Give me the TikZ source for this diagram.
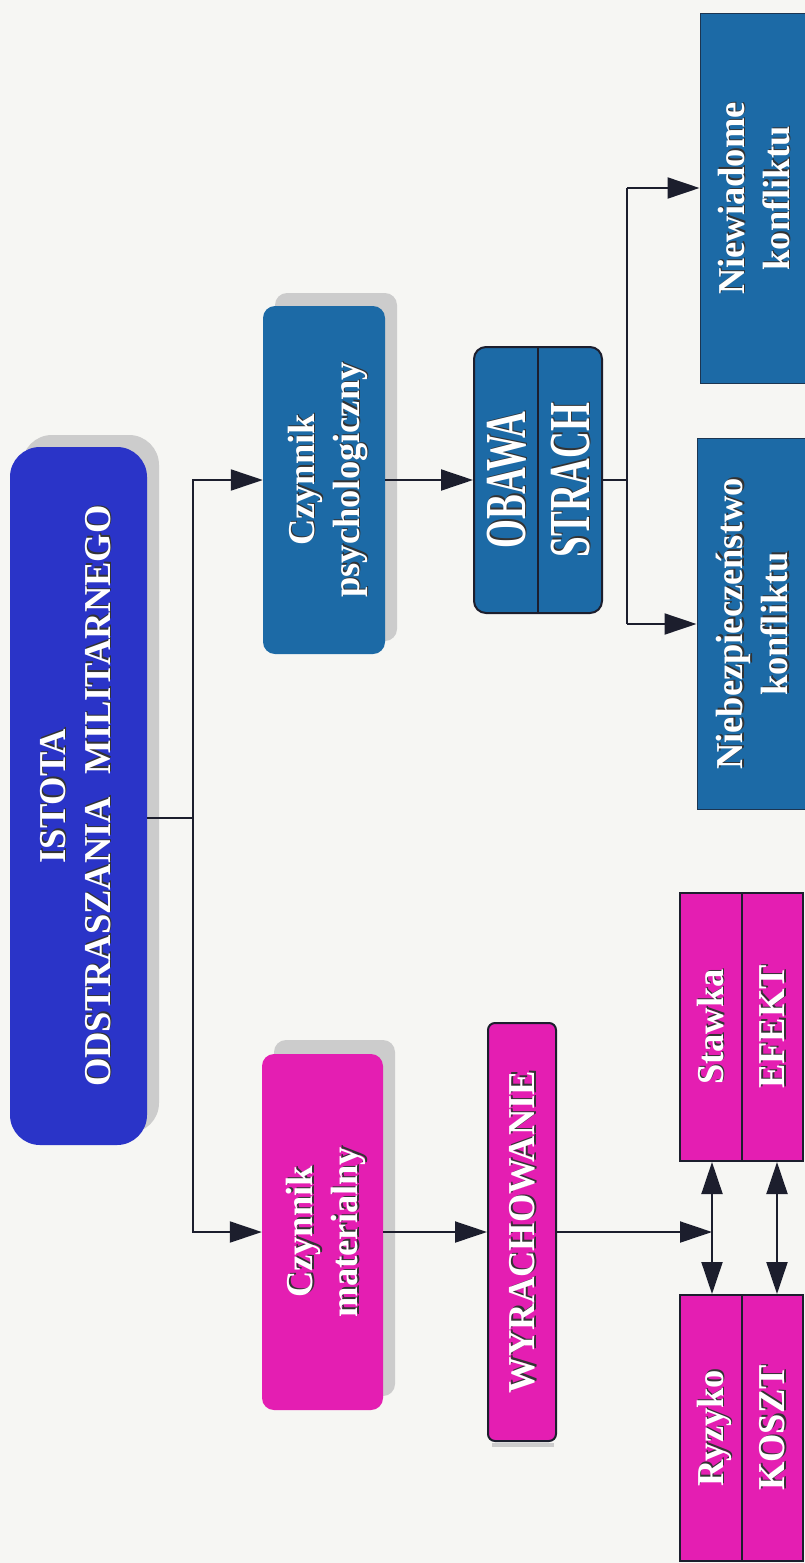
\documentclass[tikz,border=0pt]{standalone}
\usepackage{fontspec}
\setmainfont{Liberation Serif}[FakeStretch=0.96]
\newfontfamily\tallfont{Liberation Serif}[FakeStretch=0.64]
\usetikzlibrary{arrows.meta}
\definecolor{bgcol}{RGB}{246,246,243}
\definecolor{rootblue}{RGB}{42,52,200}
\definecolor{psyblue}{RGB}{28,106,166}
\definecolor{matpink}{RGB}{228,30,178}
\definecolor{shadowgray}{RGB}{204,204,204}
\definecolor{linecol}{RGB}{28,30,45}
\newcommand{\sh}[1]{\makebox[0pt][l]{\kern1.4pt\raisebox{-1.6pt}{\bfseries\color{black!80}#1}}{\bfseries\color{white}#1}}
\begin{document}
\begin{tikzpicture}[x=1pt,y=-1pt,
  every node/.style={font=\bfseries\fontsize{38}{45}\selectfont},
  box/.style={rotate=90, inner sep=0pt, align=center, text height=80.1pt, text depth=9.9pt},
  rootbox/.style={box, fill=rootblue, rounded corners=30pt, text height=76.5pt, text depth=13.5pt},
  psybox/.style={box, fill=psyblue, rounded corners=12pt},
  matbox/.style={box, fill=matpink, rounded corners=12pt},
  psyrect/.style={box, fill=psyblue, draw=linecol!70!psyblue, line width=1pt},
  splitbase/.style={box, draw=linecol, line width=2pt},
  splitpsy/.style={splitbase, fill=psyblue, rounded corners=12pt,
    font=\tallfont\bfseries\fontsize{58}{64}\selectfont, text height=115.2pt, text depth=12.8pt},
  splitmat/.style={splitbase, fill=matpink,
    font=\bfseries\fontsize{38}{61.5}\selectfont, text height=104.85pt, text depth=18.15pt},
  wyrbox/.style={box, fill=matpink, draw=linecol, line width=2pt, rounded corners=7pt, text height=35.1pt, text depth=9.9pt},
  divline/.style={draw=linecol, line width=2pt},
  conn/.style={draw=linecol, line width=2pt},
  tip/.tip={Triangle[length=32pt,width=21pt]},
  arr/.style={conn, -tip},
  dblarr/.style={conn, tip-tip},
  shadowbox/.style={fill=shadowgray}
]
\useasboundingbox (0,0) rectangle (805,1563);
\clip (0,0) rectangle (805,1563);
\fill[bgcol] (0,0) rectangle (805,1563);

% shadows
\fill[shadowbox, rounded corners=30pt] (22,435) rectangle (159,1133);
\fill[shadowbox, rounded corners=12pt] (275,293) rectangle (397,641);
\fill[shadowbox, rounded corners=12pt] (274,1040) rectangle (395,1396);
\fill[shadowbox] (492,1443) rectangle (554,1447);

% nodes
\node[rootbox, minimum width=698pt, minimum height=137pt] (root) at (78.5,796)
  {\sh{ISTOTA}\\\sh{ODSTRASZANIA\hspace{0.6em}MILITARNEGO}};
\node[psybox, minimum width=348pt, minimum height=122pt] (psych) at (324,480)
  {\sh{Czynnik}\\\sh{psychologiczny}};
\node[matbox, minimum width=356pt, minimum height=121pt] (mat) at (322.5,1232)
  {\sh{Czynnik}\\\sh{materialny}};
\node[splitpsy, minimum width=266pt, minimum height=128pt] (obawa) at (538,480)
  {\sh{OBAWA}\\\sh{STRACH}};
\node[psyrect, minimum width=369pt, minimum height=108pt] (niew) at (754,198.5)
  {\sh{Niewiadome}\\\sh{konfliktu}};
\node[psyrect, minimum width=371pt, minimum height=111pt] (niebez) at (752.5,624)
  {\sh{Niebezpieczeństwo}\\\sh{konfliktu}};
\node[wyrbox, minimum width=418pt, minimum height=68pt] (wyr) at (522,1232)
  {\sh{WYRACHOWANIE}};
\node[splitmat, minimum width=268pt, minimum height=123pt] (stawka) at (741.5,1027)
  {\sh{Stawka}\\\sh{EFEKT}};
\node[splitmat, minimum width=266pt, minimum height=123pt] (ryzyko) at (741.5,1428)
  {\sh{Ryzyko}\\\sh{KOSZT}};

% dividers
\draw[divline] (obawa.east) -- (obawa.west);
\draw[divline] (stawka.east) -- (stawka.west);
\draw[divline] (ryzyko.east) -- (ryzyko.west);

% connectors
\coordinate (j1) at (193,818);
\coordinate (s1) at (627,188);
\coordinate (s2) at (627,624);
\coordinate (j3) at (712,1232);
\coordinate (k) at (777,1232);
\draw[conn] (root.south |- j1) -- (j1);
\draw[arr] (j1) |- (psych.north);
\draw[arr] (j1) |- (mat.north);
\draw[arr] (psych.south) -- (obawa.north);
\draw[conn] (obawa.south) -- (obawa.south -| s1);
\draw[conn] (s1) -- (s2);
\draw[arr] (s1) -- (s1 -| niew.north);
\draw[arr] (s2) -- (s2 -| niebez.north);
\draw[arr] (mat.south) -- (wyr.north);
\draw[arr] (wyr.south) -- (j3);
\draw[dblarr] (stawka.west -| j3) -- (ryzyko.east -| j3);
\draw[dblarr] (stawka.west -| k) -- (ryzyko.east -| k);
\end{tikzpicture}
\end{document}
